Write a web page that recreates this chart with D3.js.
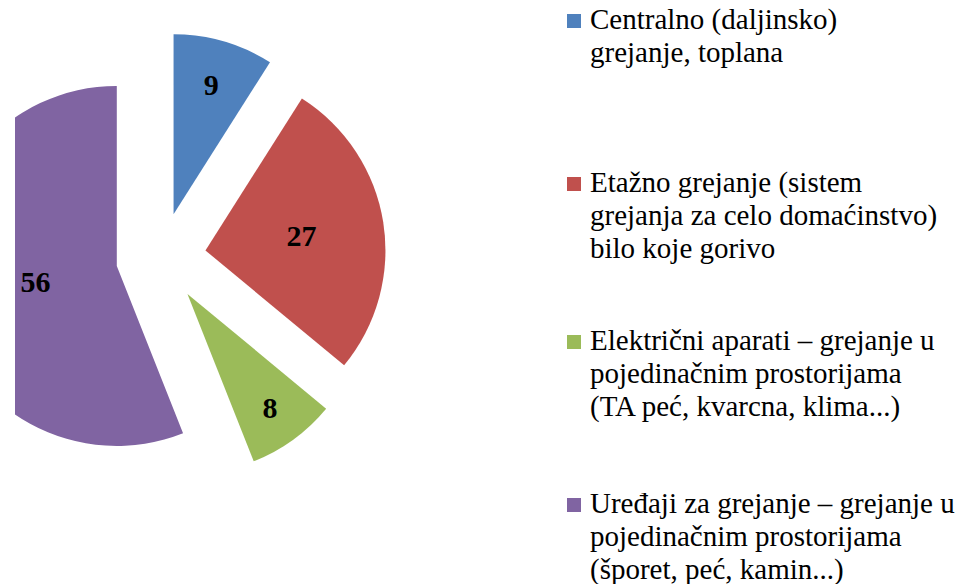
<!DOCTYPE html>
<html>
<head>
<meta charset="utf-8">
<script src="https://cdn.jsdelivr.net/npm/d3@7"></script>
</head>
<body style="margin:0;background:#fff">
<svg id="chart" width="964" height="584" style="display:block"></svg>
<script>
const categories = [
  ["Centralno (daljinsko)", "grejanje, toplana"],
  ["Etažno grejanje (sistem", "grejanja za celo domaćinstvo)", "bilo koje gorivo"],
  ["Električni aparati – grejanje u", "pojedinačnim prostorijama", "(TA peć, kvarcna, klima...)"],
  ["Uređaji za grejanje – grejanje u", "pojedinačnim prostorijama", "(šporet, peć, kamin...)"]
];
const values = [9, 27, 8, 56];
const colors = ["#4F81BD", "#C0504D", "#9BBB59", "#8064A2"];
const labelRadiusFrac = [0.75, 0.54, 0.78, 0.46];
const legendBaselines = [29, 192, 350, 513];

const W = 964, H = 584;
const cx = 161, cy = 257.5, R = 180, explode = 45;

const svg = d3.select("#chart");
svg.append("defs").append("clipPath").attr("id", "plotClip")
  .append("rect").attr("x", 15).attr("y", 0).attr("width", 560).attr("height", H);

const pie = d3.pie().sort(null).value(d => d)(values);
const arc = d3.arc().innerRadius(0).outerRadius(R);

const g = svg.append("g").attr("clip-path", "url(#plotClip)")
  .append("g").attr("transform", `translate(${cx},${cy})`);

const slices = g.selectAll("g.slice").data(pie).enter().append("g")
  .attr("class", "slice")
  .attr("transform", d => {
    const a = (d.startAngle + d.endAngle) / 2;
    return `translate(${explode * Math.sin(a)},${-explode * Math.cos(a)})`;
  });

slices.append("path")
  .attr("d", arc)
  .attr("fill", (d, i) => colors[i]);

slices.append("text")
  .attr("transform", (d, i) => {
    const a = (d.startAngle + d.endAngle) / 2;
    const r = R * labelRadiusFrac[i];
    return `translate(${r * Math.sin(a)},${-r * Math.cos(a)})`;
  })
  .attr("text-anchor", "middle")
  .attr("dy", "0.35em")
  .style("font-family", '"Liberation Serif"')
  .style("font-weight", "bold")
  .style("font-size", "30px")
  .attr("fill", "#000")
  .text(d => d.data);

// Legend
const legendX = 567, lineH = 33;
const legend = svg.append("g");
categories.forEach((lines, i) => {
  const y0 = legendBaselines[i];
  legend.append("rect")
    .attr("x", legendX).attr("y", y0 - 15)
    .attr("width", 14).attr("height", 14)
    .attr("fill", colors[i]);
  lines.forEach((ln, j) => {
    legend.append("text")
      .attr("x", legendX + 23).attr("y", y0 + j * lineH)
      .style("font-family", '"Liberation Serif"')
      .style("font-size", "29px")
      .attr("fill", "#000")
      .text(ln);
  });
});
</script>
</body>
</html>
